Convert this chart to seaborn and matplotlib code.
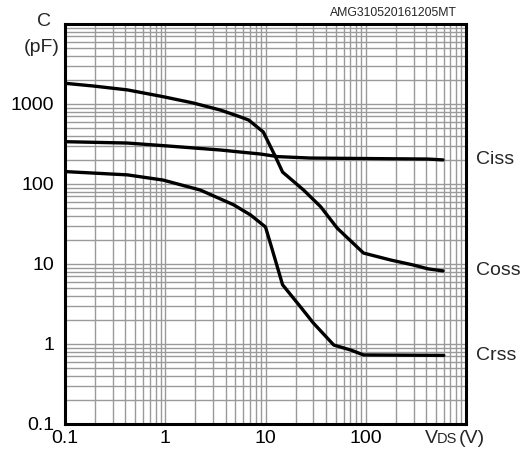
import numpy as np
import pandas as pd
import seaborn as sns
import matplotlib.pyplot as plt
from matplotlib.ticker import LogLocator, NullFormatter

# curve values (V, pF)
vds_coss = [0.1, 0.19, 0.42, 0.95, 1.9, 3.55, 5.6, 6.8, 9.5, 12.6, 14.8, 24, 35.5, 52, 95, 178, 300, 417, 590]
coss = [1815, 1680, 1500, 1235, 1030, 840, 690, 630, 447, 218, 141, 84, 52, 28, 13.7, 11.2, 9.7, 8.7, 8.2]

vds_ciss = [0.1, 0.42, 1.05, 3.55, 5.6, 8.9, 13.2, 28, 417, 590]
ciss = [338, 325, 299, 266, 251, 237, 220, 211, 205, 200]

vds_crss = [0.1, 0.42, 0.95, 2.24, 4.8, 7.1, 10, 11.7, 14.8, 22.4, 30, 48, 71, 95, 600]
crss = [143, 130, 112, 84, 55, 41, 29, 15, 5.5, 2.9, 1.83, 0.97, 0.84, 0.73, 0.72]

x_ticks = [0.1, 1, 10, 100, 1000]
x_labels = ["0.1", "1", "10", "100", ""]
y_ticks = [0.1, 1, 10, 100, 1000]
y_labels = ["0.1", "1", "10", "100", "1000"]

curve_names = ["Ciss", "Coss", "Crss"]
label_y = [200, 8.2, 0.72]

df = pd.concat([
    pd.DataFrame({"VDS": vds_ciss, "C": ciss, "curve": "Ciss"}),
    pd.DataFrame({"VDS": vds_coss, "C": coss, "curve": "Coss"}),
    pd.DataFrame({"VDS": vds_crss, "C": crss, "curve": "Crss"}),
])

sns.set_style("white")
plt.rcParams["font.family"] = ["Liberation Sans", "DejaVu Sans"]

W, H = 522, 453
fig = plt.figure(figsize=(W / 100, H / 100), dpi=100)
ax = fig.add_axes([65 / W, 29 / H, 401 / W, 400 / H])

ax.set_xscale("log")
ax.set_yscale("log")
sns.lineplot(data=df, x="VDS", y="C", hue="curve", units="curve", estimator=None,
             sort=False, palette=["black"] * 3, legend=False, linewidth=2.4, ax=ax,
             solid_capstyle="round", zorder=3)

ax.set_xlim(0.1, 1000)
ax.set_ylim(0.1, 10000)
ax.set_xticks(x_ticks)
ax.set_xticklabels(x_labels)
ax.set_yticks(y_ticks)
ax.set_yticklabels(y_labels)
ax.xaxis.set_minor_locator(LogLocator(base=10, subs=np.arange(2, 10), numticks=20))
ax.yaxis.set_minor_locator(LogLocator(base=10, subs=np.arange(2, 10), numticks=20))
ax.xaxis.set_minor_formatter(NullFormatter())
ax.yaxis.set_minor_formatter(NullFormatter())
ax.grid(which="both", color="#9a9a9a", linewidth=1.0)
ax.set_axisbelow(True)
ax.tick_params(which="both", length=0, labelsize=14, colors="black")
ax.tick_params(axis="y", pad=8)
ax.tick_params(axis="x", pad=4)
ax.set_xlabel("")
ax.set_ylabel("")
for s in ax.spines.values():
    s.set_visible(True)
    s.set_linewidth(2.2)
    s.set_color("black")

# curve names at the right edge
for name, yv in zip(curve_names, label_y):
    ax.annotate(name, xy=(1, yv), xycoords=("axes fraction", "data"), xytext=(7, 0),
                textcoords="offset points", ha="left", va="center", fontsize=14)

# axis captions
fig.text(44 / W, 1 - 21 / H, "C", ha="center", va="center", fontsize=14)
fig.text(42 / W, 1 - 48 / H, "(pF)", ha="center", va="center", fontsize=14)
fig.text(425 / W, 1 - 443 / H, "V", ha="left", va="baseline", fontsize=14)
fig.text(437 / W, 1 - 443 / H, "DS", ha="left", va="baseline", fontsize=10.5)
fig.text(459 / W, 1 - 443 / H, "(V)", ha="left", va="baseline", fontsize=14)
fig.text(457 / W, 1 - 13 / H, "AMG310520161205MT", ha="right", va="center", fontsize=8.8)

fig.savefig("out.png", dpi=100)
